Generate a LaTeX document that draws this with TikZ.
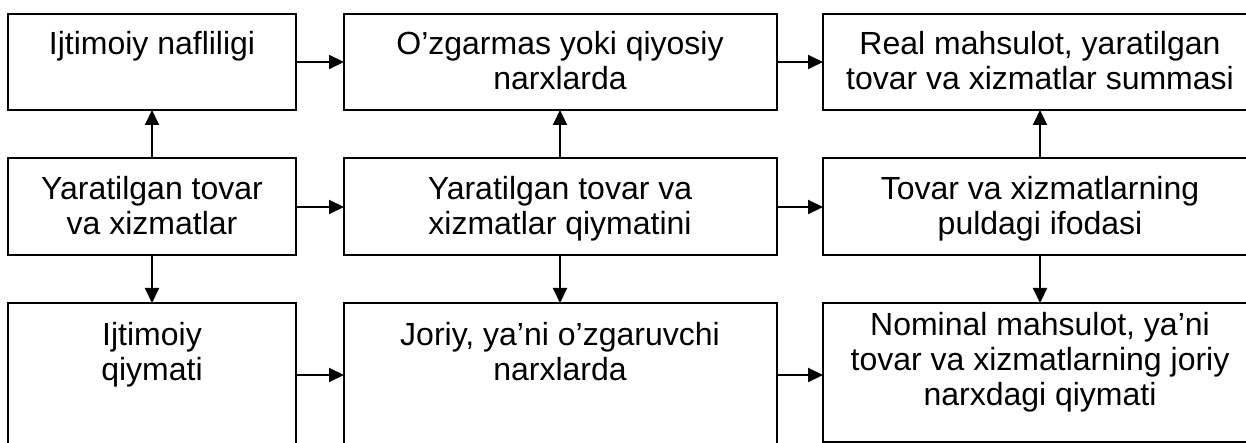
\documentclass[tikz,border=0pt]{standalone}
\usepackage{fontspec}
\setmainfont{Liberation Sans}
\usetikzlibrary{arrows.meta}
\tikzset{
  box/.style={draw, line width=2pt, inner sep=0pt, outer sep=0pt, anchor=north west},
  lbl/.style={align=center, anchor=base, inner sep=0pt, font=\fontsize{32}{35}\selectfont},
  arr/.style={line width=2pt, -{Triangle[length=15pt,width=14pt]}}
}
\begin{document}
\begin{tikzpicture}[x=1pt,y=-1pt]
\useasboundingbox (0,0) rectangle (1246,443);
\clip (0,0) rectangle (1246,443);
% boxes
\node[box, minimum width=288pt, minimum height=96pt] (b1) at (8,14) {};
\node[box, minimum width=433pt, minimum height=96pt] (b2) at (344,14) {};
\node[box, minimum width=434pt, minimum height=96pt] (b3) at (823,14) {};
\node[box, minimum width=288pt, minimum height=97pt] (b4) at (8,158) {};
\node[box, minimum width=433pt, minimum height=97pt] (b5) at (344,158) {};
\node[box, minimum width=434pt, minimum height=97pt] (b6) at (823,158) {};
\node[box, minimum width=288pt, minimum height=160pt] (b7) at (8,303) {};
\node[box, minimum width=433pt, minimum height=160pt] (b8) at (344,303) {};
\node[box, minimum width=434pt, minimum height=139pt] (b9) at (823,303) {};
% labels (anchor base = baseline of last line)
\node[lbl] (t1) at (152,55) {Ijtimoiy nafliligi};
\node[lbl] (t2) at (560,90) {O’zgarmas yoki qiyosiy\\narxlarda};
\node[lbl] (t3) at (1040,90) {Real mahsulot, yaratilgan\\tovar va xizmatlar summasi};
\node[lbl] (t4) at (152,235) {Yaratilgan tovar\\va xizmatlar};
\node[lbl] (t5) at (560,235) {Yaratilgan tovar va\\xizmatlar qiymatini};
\node[lbl] (t6) at (1040,235) {Tovar va xizmatlarning\\puldagi ifodasi};
\node[lbl] (t7) at (152,380) {Ijtimoiy\\qiymati};
\node[lbl] (t8) at (560,380) {Joriy, ya’ni o’zgaruvchi\\narxlarda};
\node[lbl] (t9) at (1040,405) {Nominal mahsulot, ya’ni\\tovar va xizmatlarning joriy\\narxdagi qiymati};
% reference coordinates
\coordinate (c1) at (152,0);
\coordinate (c2) at (560,0);
\coordinate (c3) at (1040,0);
\coordinate (r1) at (0,62);
\coordinate (r2) at (0,207);
\coordinate (r3) at (0,375);
% connectors
\draw[arr] (b4.north -| c1) -- (b1.south -| c1);
\draw[arr] (b4.south -| c1) -- (b7.north -| c1);
\draw[arr] (b5.north -| c2) -- (b2.south -| c2);
\draw[arr] (b5.south -| c2) -- (b8.north -| c2);
\draw[arr] (b6.north -| c3) -- (b3.south -| c3);
\draw[arr] (b6.south -| c3) -- (b9.north -| c3);
\draw[arr] (b1.east |- r1) -- (b2.west |- r1);
\draw[arr] (b2.east |- r1) -- (b3.west |- r1);
\draw[arr] (b4.east |- r2) -- (b5.west |- r2);
\draw[arr] (b5.east |- r2) -- (b6.west |- r2);
\draw[arr] (b7.east |- r3) -- (b8.west |- r3);
\draw[arr] (b8.east |- r3) -- (b9.west |- r3);
\end{tikzpicture}
\end{document}
